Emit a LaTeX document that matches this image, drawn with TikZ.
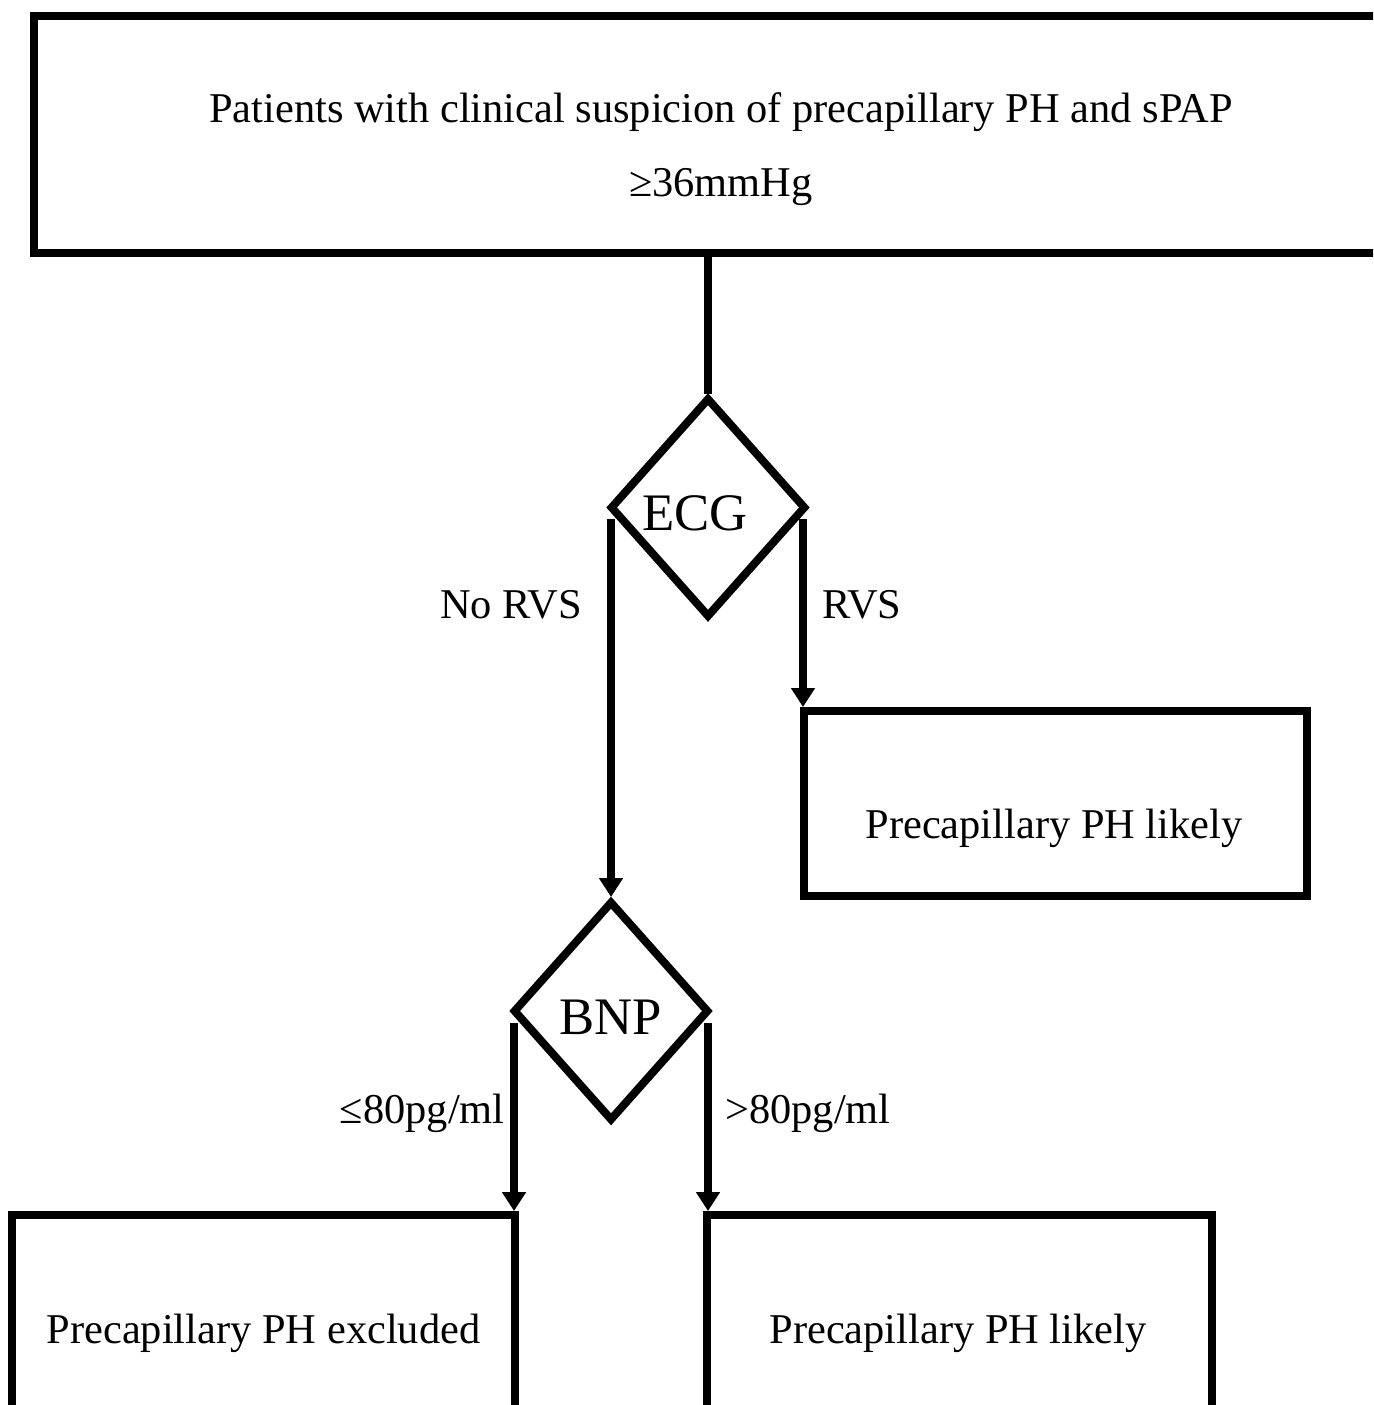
\documentclass[tikz,border=0pt]{standalone}
\usepackage{fontspec}
\setmainfont{Liberation Serif}
\usetikzlibrary{shapes.geometric,arrows.meta}
\begin{document}
\begin{tikzpicture}[x=0.02cm,y=-0.02cm,
  box/.style={draw, line width=0.16cm, rectangle, inner sep=0pt},
  dec/.style={draw, line width=0.16cm, diamond, inner sep=0pt, minimum width=3.92cm, minimum height=4.4cm},
  txt/.style={font=\fontsize{24.15}{29}\selectfont, inner sep=0pt, anchor=base},
  dtxt/.style={font=\fontsize{30}{36}\selectfont, inner sep=0pt, anchor=base},
  conn/.style={line width=0.16cm},
  arr/.style={conn, -{Triangle[length=0.38cm,width=0.46cm]}}]
\clip (0,0) rectangle (1373,1405);
% boxes
\node[box, minimum width=27.44cm, minimum height=4.74cm] (top) at (720,134.5) {};
\node[txt] (t1) at (721,122.7) {Patients with clinical suspicion of precapillary PH and sPAP};
\node[txt] (t2) at (721,197) {≥36mmHg};
\node[dec] (ecg) at (708,507.5) {};
\node[dtxt] (ecgt) at (695,530) {ECG};
\node[box, minimum width=10.08cm, minimum height=3.7cm] (r1) at (1055.5,803.5) {};
\node[txt] (r1t) at (1054,838) {Precapillary PH likely};
\node[dec] (bnp) at (611,1011) {};
\node[dtxt] (bnpt) at (611,1034) {BNP};
\node[box, minimum width=10.06cm, minimum height=5cm] (bl) at (263.5,1340) {};
\node[txt] (blt) at (263.5,1343) {Precapillary PH excluded};
\node[box, minimum width=10.1cm, minimum height=5cm] (br) at (959.5,1340) {};
\node[txt] (brt) at (958,1343) {Precapillary PH likely};
% connector start points
\coordinate (eL) at (611,519);
\coordinate (eR) at (803,519);
\coordinate (bL) at (514,1023);
\coordinate (bR) at (708,1023);
% connectors
\draw[conn] (top.south -| ecg.north) -- (ecg.north);
\draw[arr] (eL) -- (bnp.north);
\draw[arr] (eR) -- (eR |- r1.north);
\draw[arr] (bL) -- (bL |- bl.north);
\draw[arr] (bR) -- (bR |- br.north);
% labels
\node[txt, anchor=base east] (l1) at (582,618) {No RVS};
\node[txt, anchor=base west] (l2) at (822,618) {RVS};
\node[txt, anchor=base east] (l3) at (505,1123) {≤80pg/ml};
\node[txt, anchor=base west] (l4) at (725,1123) {>80pg/ml};
\end{tikzpicture}
\end{document}
